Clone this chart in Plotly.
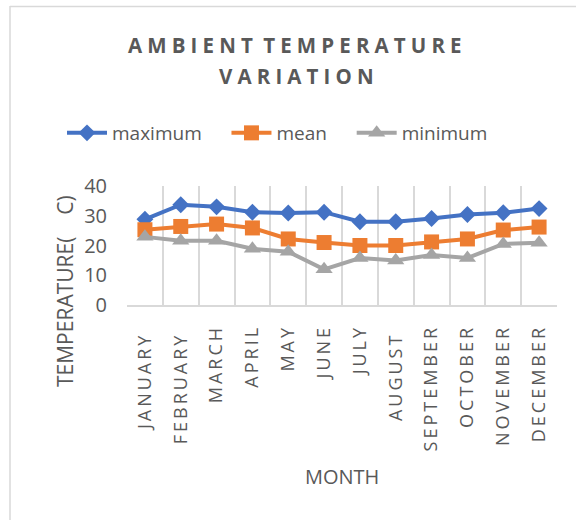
import plotly.graph_objects as go

months = ["JANUARY", "FEBRUARY", "MARCH", "APRIL", "MAY", "JUNE", "JULY",
          "AUGUST", "SEPTEMBER", "OCTOBER", "NOVEMBER", "DECEMBER"]
month_labels = ["JANUARY ", "FEBRUARY ", "MARCH", "APRIL", "MAY", "JUNE", "JULY",
                "AUGUST ", "SEPTEMBER", "OCTOBER", "NOVEMBER", "DECEMBER"]
maximum = [28.8, 33.7, 33.0, 31.2, 30.9, 31.2, 28.0, 28.0, 29.1, 30.4, 31.0, 32.4]
mean = [25.3, 26.4, 27.2, 25.9, 22.2, 21.0, 20.0, 20.0, 21.2, 22.2, 25.2, 26.2]
minimum = [22.9, 21.6, 21.6, 18.9, 17.9, 12.0, 15.8, 15.0, 16.8, 15.8, 20.5, 20.9]
y_ticks = [0, 10, 20, 30, 40]

FONT = "Open Sans"
GREY = "#595959"
TS = "\u2009"  # thin space for letter spacing
NB = "\u00a0"


def spaced(s, sep=TS):
    return sep.join(c if c != " " else NB for c in s)


W, H = 576, 520
ML, MR, MT, MB = 127, 19, 186, 215

fig = go.Figure()
fig.add_trace(go.Scatter(x=months, y=maximum, name="maximum" + NB * 4, mode="lines+markers",
                         line=dict(color="#4472C4", width=4),
                         marker=dict(symbol="diamond", size=13, color="#4472C4")))
fig.add_trace(go.Scatter(x=months, y=mean, name="mean" + NB * 4, mode="lines+markers",
                         line=dict(color="#ED7D31", width=4),
                         marker=dict(symbol="square", size=15, color="#ED7D31")))
fig.add_trace(go.Scatter(x=months, y=minimum, name="minimum", mode="lines+markers",
                         line=dict(color="#A5A5A5", width=4),
                         marker=dict(symbol="triangle-up", size=15, color="#A5A5A5")))

pw = W - ML - MR
ph = H - MT - MB


def px2paperx(px):
    return (px - ML) / pw


def px2papery(py):
    return 1 - (py - MT) / ph


SP = "\u2005"
title1 = spaced("AMBIENT", SP) + NB + SP + spaced("TEMPERATURE", SP)
title2 = spaced("VARIATION", SP)

fig.update_layout(
    width=W, height=H,
    margin=dict(l=ML, r=MR, t=MT, b=MB, autoexpand=False),
    paper_bgcolor="white", plot_bgcolor="white",
    font=dict(family=FONT, color=GREY),
    showlegend=True,
    legend=dict(orientation="h", x=62 / W, xref="container", xanchor="left",
                y=1 - 133 / H, yref="container", yanchor="middle",
                font=dict(size=19, color=GREY, family=FONT),
                itemsizing="trace", tracegroupgap=0, itemwidth=40),
    xaxis=dict(type="category", tickson="boundaries", showgrid=True, gridcolor="#d9d9d9",
               gridwidth=1.5, showline=True, linecolor="#d9d9d9", linewidth=1.5,
               tickangle=-90, ticks="", zeroline=False,
               tickmode="array", tickvals=months, ticktext=[spaced(m) for m in month_labels],
               tickfont=dict(size=18, color=GREY, family=FONT),
               ticklabelstandoff=14,
               range=[-0.5, 11.5], automargin=False),
    yaxis=dict(range=[0, 40], tickvals=y_ticks, showgrid=False, showline=False,
               zeroline=False, ticks="", tickfont=dict(size=20, color=GREY, family=FONT),
               ticklabelstandoff=19, automargin=False),
    annotations=[
        dict(text=title1, x=px2paperx(295), y=px2papery(45), xref="paper", yref="paper",
             xanchor="center", yanchor="middle", showarrow=False,
             font=dict(size=20.5, color=GREY, family=FONT, weight="bold")),
        dict(text=title2, x=px2paperx(296), y=px2papery(76), xref="paper", yref="paper",
             xanchor="center", yanchor="middle", showarrow=False,
             font=dict(size=20.5, color=GREY, family=FONT, weight="bold")),
        dict(text="TEMPERATURE(" + NB * 4 + "C)", x=px2paperx(65), y=px2papery(291),
             xref="paper", yref="paper", xanchor="center", yanchor="middle", textangle=-90,
             showarrow=False, font=dict(size=21, color=GREY, family=FONT)),
        dict(text="MONTH", x=px2paperx(342), y=px2papery(476), xref="paper", yref="paper",
             xanchor="center", yanchor="middle", showarrow=False,
             font=dict(size=20, color=GREY, family=FONT)),
    ],
    shapes=[
        dict(type="line", xref="paper", yref="paper", x0=px2paperx(10), x1=px2paperx(10),
             y0=px2papery(6), y1=px2papery(530), line=dict(color="#d9d9d9", width=1.5)),
        dict(type="line", xref="paper", yref="paper", x0=px2paperx(10), x1=px2paperx(590),
             y0=px2papery(6.5), y1=px2papery(6.5), line=dict(color="#d9d9d9", width=1.5)),
    ],
)

fig.write_html("out.html", config={"displayModeBar": False},
               post_script="document.body.style.margin='0';")
